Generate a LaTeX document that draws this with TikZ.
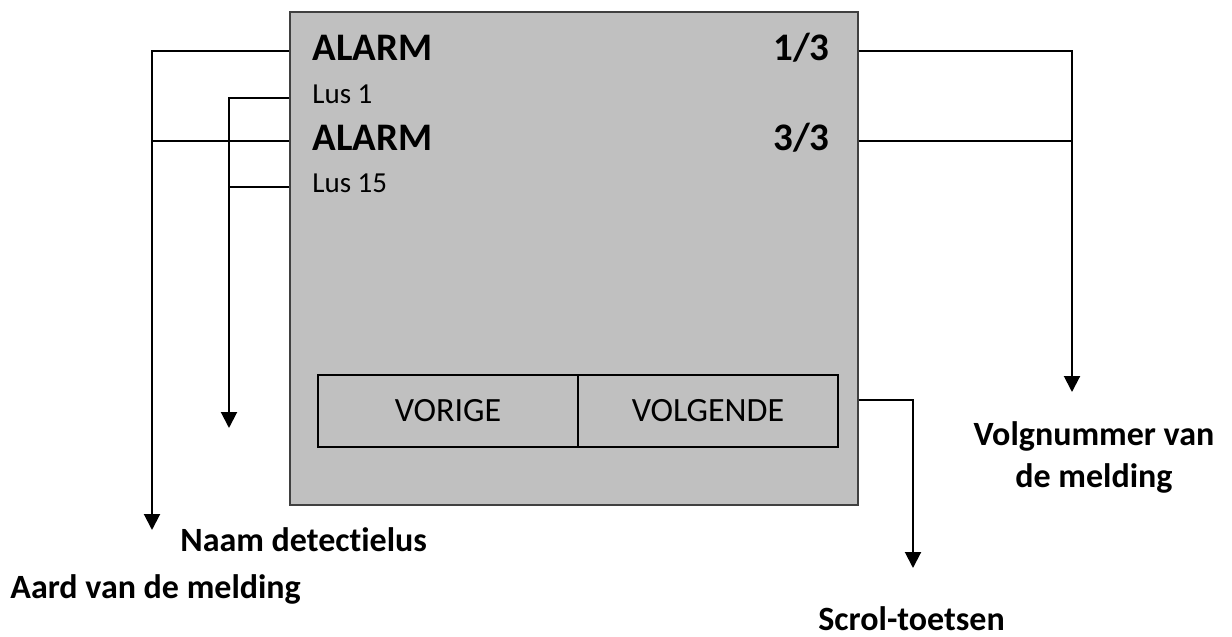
\documentclass[tikz,border=0pt]{standalone}
\usepackage{fontspec}
\setmainfont{Carlito}[RawFeature=-liga]
\usepackage{tikz}
\usetikzlibrary{arrows.meta}
\definecolor{screengray}{RGB}{192,192,192}

\begin{document}
\begin{tikzpicture}[x=0.5pt, y=-0.5pt,
  scr/.style={draw=black!75, line width=0.6pt, fill=screengray, minimum width=284pt, minimum height=246.5pt, inner sep=0pt},
  key/.style={draw, line width=1.3pt, minimum width=130pt, minimum height=36pt, inner sep=0pt, font=\fontsize{17}{20}\selectfont},
  big/.style={anchor=base west, inner sep=0pt, font=\fontsize{19.5}{23}\selectfont\bfseries},
  small/.style={anchor=base west, inner sep=0pt, font=\fontsize{14.5}{17}\selectfont},
  lbl/.style={inner sep=0pt, font=\fontsize{17}{21}\selectfont\bfseries},
  lead/.style={line width=1pt},
  tip/.style={lead, -{Triangle[width=8pt,length=8pt]}}]
  \useasboundingbox (0,0) rectangle (1232,637);
  % display
  \node[scr] (screen) at (574,258.5) {};
  \node[big] (alarmA) at (312,60) {ALARM};
  \node[big, anchor=base east] (numA) at (830,60) {1/3};
  \node[small] (lusA) at (312,103) {Lus 1};
  \node[big] (alarmB) at (312,150) {ALARM};
  \node[big, anchor=base east] (numB) at (830,150) {3/3};
  \node[small] (lusB) at (312,192) {Lus 15};
  \node[key] (prev) at (448,411) {VORIGE};
  \node[key] (next) at (708,411) {VOLGENDE};
  % labels
  \node[lbl, anchor=base west] (aard) at (10,598) {Aard van de melding};
  \node[lbl, anchor=base west] (naam) at (180,551) {Naam detectielus};
  \node[lbl, align=center, anchor=north] (volg) at (1094,421) {Volgnummer van\\de melding};
  \node[lbl, anchor=base west] (scrol) at (818,630) {Scrol-toetsen};
  % leaders
  \coordinate (aardtip) at (152,530);
  \coordinate (naamtip) at (229,428);
  \coordinate (volgtip) at (1072,392);
  \coordinate (scrolknee) at (913,400);
  \coordinate (scroltip) at (913,568);
  \draw[tip] ([yshift=2pt]screen.west |- alarmA.mid) -| (aardtip);
  \draw[lead] ([yshift=2pt]screen.west |- alarmB.mid) -- ([yshift=2pt]aardtip |- alarmB.mid);
  \draw[tip] (screen.west |- lusA.mid) -| (naamtip);
  \draw[lead] (screen.west |- lusB.mid) -- (naamtip |- lusB.mid);
  \draw[tip] ([yshift=2pt]screen.east |- numA.mid) -| (volgtip);
  \draw[lead] ([yshift=2pt]screen.east |- numB.mid) -- ([yshift=2pt]volgtip |- numB.mid);
  \draw[tip] (screen.east |- scrolknee) -- (scrolknee) -- (scroltip);
\end{tikzpicture}
\end{document}
